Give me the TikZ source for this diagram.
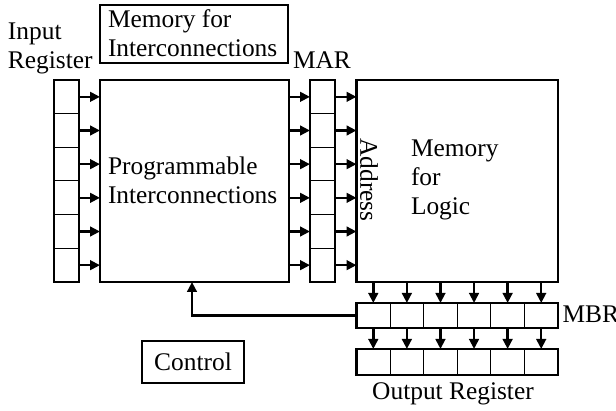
\documentclass[tikz,border=0pt]{standalone}
\usepackage{fontspec}
\setmainfont{Liberation Serif}
\usetikzlibrary{arrows.meta,fit}
\begin{document}
\begin{tikzpicture}[x=0.5pt,y=-0.5pt,
  box/.style={draw,line width=1.25pt,inner sep=0pt,outer sep=0pt},
  vcell/.style={draw,line width=0.5pt,inner sep=0pt,outer sep=0pt,minimum width=12.5pt,minimum height=16.833pt},
  hcell/.style={draw,line width=0.5pt,inner sep=0pt,outer sep=0pt,minimum width=16.79pt,minimum height=12.5pt},
  lbl/.style={inner sep=0pt,outer sep=0pt,font=\fontsize{12.7}{14.6}\selectfont,align=left},
  arr/.style={line width=1.25pt,-{Triangle[length=5pt,width=4.8pt]}},
]
\useasboundingbox (0,0) rectangle (616,411);

% input register and MAR: six vertical cells each
\foreach \i in {0,...,5} {
  \node[vcell] (in\i)  at (66.5,  {80+33.667*(\i+0.5)}) {};
  \node[vcell] (mar\i) at (322.5, {80+33.667*(\i+0.5)}) {};
}
\node[box,fit=(in0)(in5)] (inreg) {};
\node[box,fit=(mar0)(mar5)] (mar) {};

% main blocks
\node[box,minimum width=94.5pt,minimum height=101pt] (prog) at (194.5,181) {};
\node[box,minimum width=100.75pt,minimum height=101pt] (mem) at (457.25,181) {};
\node[box,minimum width=94pt,minimum height=29pt] (memic) at (194,34) {};
\node[box,minimum width=51pt,minimum height=21pt] (ctrl) at (193,362) {};

% MBR and output register: six horizontal cells each
\foreach \i in {0,...,5} {
  \node[hcell] (mbr\i) at ({356.5+33.583*(\i+0.5)}, 315.5) {};
  \node[hcell,minimum height=13pt] (out\i) at ({356.5+33.583*(\i+0.5)}, 362) {};
}
\node[box,fit=(mbr0)(mbr5)] (mbr) {};
\node[box,fit=(out0)(out5)] (outreg) {};

% data paths
\foreach \i in {0,...,5} {
  \draw[arr] (in\i.east)  -- (in\i.east -| prog.west);
  \draw[arr] (prog.east |- mar\i.west) -- (mar\i.west);
  \draw[arr] (mar\i.east) -- (mar\i.east -| mem.west);
  \draw[arr] (mem.south -| mbr\i.north) -- (mbr\i.north);
  \draw[arr] (mbr\i.south) -- (out\i.north);
}
\coordinate (fb) at (192,315.5);
\draw[arr] (mbr.west) -- (fb) -- (fb |- prog.south);

% labels (base anchor sits on the last line of a multi-line label)
\node[lbl,anchor=base west] (tin) at (8,69) {Input\\Register};
\node[lbl,anchor=base west] (tmemic) at (108,56.7) {Memory for\\Interconnections};
\node[lbl,anchor=base west] (tmar) at (293,69) {MAR};
\node[lbl,anchor=base west] (tprog) at (108,204) {Programmable\\Interconnections};
\node[lbl,rotate=-90] (taddr) at (369,180) {Address};
\node[lbl,anchor=base west] (tmem) at (411,215) {Memory\\for\\Logic};
\node[lbl,anchor=base west] (tmbr) at (562.5,322) {MBR};
\node[lbl,anchor=base] (tout) at (453,400) {Output Register};
\node[lbl] (tctrl) at (ctrl) {Control};
\end{tikzpicture}
\end{document}
